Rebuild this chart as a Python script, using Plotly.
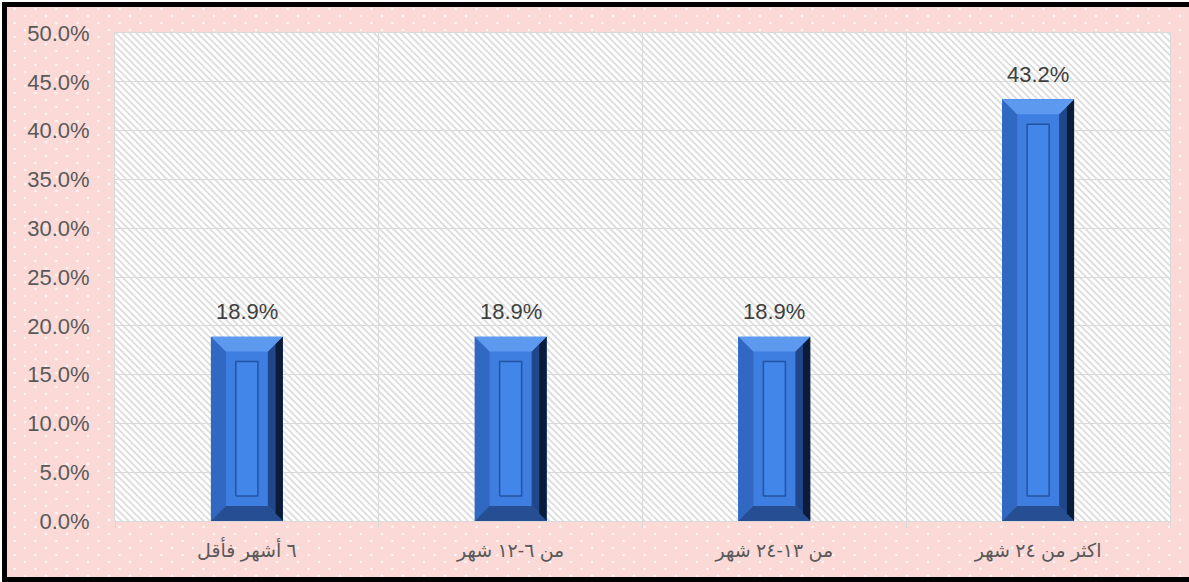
import base64
import plotly.graph_objects as go

# ---------------- data ----------------
categories = ["٦ أشهر فأقل", "من ٦-١٢ شهر", "من ١٣-٢٤ شهر", "اكثر من ٢٤ شهر"]
values = [0.189, 0.189, 0.189, 0.432]
y_tick_values = [0.0, 0.05, 0.10, 0.15, 0.20, 0.25, 0.30, 0.35, 0.40, 0.45, 0.50]

# ---------------- layout constants ----------------
W, H = 1189, 582
ML, MR, MT, MB = 115, 19, 33, 61
PW, PH = W - ML - MR, H - MT - MB
YMAX = 0.5
positions = list(range(len(categories)))
BAR_W = 0.273
px_x = len(categories) / PW          # data units per pixel (x)
px_y = YMAX / PH                     # data units per pixel (y)
BEV_X, BEV_Y = 15 * px_x, 15 * px_y
IN_HX, IN_Y = 11 * px_x, 25 * px_y

FONT = "Arial, 'Liberation Sans', 'DejaVu Sans', sans-serif"

# ---------------- background (pink dotted paper, hatched plot area) ----------------
svg = f'''<svg xmlns="http://www.w3.org/2000/svg" width="{W}" height="{H}" viewBox="0 0 {W} {H}" preserveAspectRatio="none">
<defs>
<pattern id="dots" patternUnits="userSpaceOnUse" width="21" height="14">
<circle cx="4" cy="2" r="1.3" fill="#ffffff" fill-opacity="0.8"/>
<circle cx="14.5" cy="9" r="1.3" fill="#ffffff" fill-opacity="0.8"/>
</pattern>
<pattern id="hatch" patternUnits="userSpaceOnUse" width="4.8" height="4.8" patternTransform="rotate(-45)">
<rect x="0" y="0" width="1.9" height="4.8" fill="#dedede"/>
</pattern>
</defs>
<rect width="{W}" height="{H}" fill="#ffffff"/>
<rect x="2" y="2" width="{W}" height="{H}" fill="#fbd9d7"/>
<rect x="2" y="2" width="{W}" height="{H}" fill="url(#dots)"/>
<rect x="{ML}" y="{MT}" width="{PW}" height="{PH}" fill="#ffffff"/>
<rect x="{ML}" y="{MT}" width="{PW}" height="{PH}" fill="url(#hatch)"/>
<path d="M{W} 4.5 H4.5 V579.5 H{W}" fill="none" stroke="#000000" stroke-width="5"/>
</svg>'''
svg_uri = "data:image/svg+xml;base64," + base64.b64encode(svg.encode("utf-8")).decode("ascii")

fig = go.Figure()

# main bar body
fig.add_trace(go.Bar(
    x=positions, y=values, width=BAR_W,
    marker=dict(color="#3d7ee0", line=dict(width=0)),
    hoverinfo="skip", showlegend=False,
))


def poly_trace(polys, color, line_color=None, line_w=0):
    xs, ys = [], []
    for p in polys:
        for (px, py) in p:
            xs.append(px)
            ys.append(py)
        xs.append(p[0][0]); ys.append(p[0][1])
        xs.append(None); ys.append(None)
    return go.Scatter(
        x=xs, y=ys, mode="lines", fill="toself", fillcolor=color,
        line=dict(color=line_color or color, width=line_w),
        hoverinfo="skip", showlegend=False,
    )


top_faces, right_outer, right_inner, left_faces, bottom_faces, inner_rects = [], [], [], [], [], []
for xc, v in zip(positions, values):
    L, R, T, B = xc - BAR_W / 2, xc + BAR_W / 2, v, 0.0
    top_faces.append([(L, T), (R, T), (R - BEV_X, T - BEV_Y), (L + BEV_X, T - BEV_Y)])
    left_faces.append([(L, T), (L + BEV_X, T - BEV_Y), (L + BEV_X, B + BEV_Y), (L, B)])
    bottom_faces.append([(L, B), (L + BEV_X, B + BEV_Y), (R - BEV_X, B + BEV_Y), (R, B)])
    mid = BEV_X * 0.5
    right_inner.append([(R - mid, T - BEV_Y * 0.5), (R - BEV_X, T - BEV_Y), (R - BEV_X, B + BEV_Y), (R - mid, B + BEV_Y * 0.5)])
    right_outer.append([(R, T), (R - mid, T - BEV_Y * 0.5), (R - mid, B + BEV_Y * 0.5), (R, B)])
    inner_rects.append([(xc - IN_HX, B + IN_Y), (xc + IN_HX, B + IN_Y), (xc + IN_HX, T - IN_Y), (xc - IN_HX, T - IN_Y)])

fig.add_trace(poly_trace(left_faces, "#3068c2"))
fig.add_trace(poly_trace(bottom_faces, "#264f93"))
fig.add_trace(poly_trace(right_inner, "#21478a"))
fig.add_trace(poly_trace(right_outer, "#0c1b38"))
fig.add_trace(poly_trace(top_faces, "#5d99ef"))
fig.add_trace(poly_trace(inner_rects, "#4286ea", line_color="#2553a0", line_w=1.5))

# value labels
for xc, v in zip(positions, values):
    fig.add_annotation(
        x=xc, y=v, text=f"{v * 100:.1f}%", showarrow=False,
        yanchor="middle", yshift=25,
        font=dict(family=FONT, size=22, color="#404040"),
    )

fig.update_layout(
    width=W, height=H,
    margin=dict(l=ML, r=MR, t=MT, b=MB, pad=0),
    paper_bgcolor="#fbd9d7",
    plot_bgcolor="rgba(0,0,0,0)",
    bargap=0,
    showlegend=False,
    font=dict(family=FONT, color="#595959"),
    images=[dict(
        source=svg_uri, xref="paper", yref="paper",
        x=-ML / PW, y=1 + MT / PH, sizex=W / PW, sizey=H / PH,
        xanchor="left", yanchor="top", sizing="stretch", layer="below",
    )],
    xaxis=dict(
        range=[-0.5, len(categories) - 0.5],
        tickmode="array", tickvals=positions, ticktext=categories,
        showgrid=False, zeroline=False,
        ticks="", ticklabelstandoff=12,
        tickfont=dict(family=FONT, size=19, color="#595959"),
        showline=True, linecolor="#d9d9d9", linewidth=1, mirror=True,
        minor=dict(
            tickmode="array",
            tickvals=[p - 0.5 for p in positions] + [positions[-1] + 0.5],
            ticks="outside", ticklen=6, tickcolor="#d9d9d9", tickwidth=1,
            showgrid=True, gridcolor="#d9d9d9", gridwidth=1,
        ),
        fixedrange=True,
    ),
    yaxis=dict(
        range=[0, YMAX],
        tickmode="array", tickvals=y_tick_values, tickformat=".1%",
        showgrid=True, gridcolor="#d9d9d9", gridwidth=1,
        zeroline=False, ticks="", ticklabelstandoff=20,
        tickfont=dict(family=FONT, size=22, color="#595959"),
        showline=True, linecolor="#d9d9d9", linewidth=1, mirror=True,
        fixedrange=True,
    ),
)

fig.write_html(
    "out.html",
    config={"displayModeBar": False},
    post_script="document.body.style.margin='0';document.body.style.overflow='hidden';",
)
